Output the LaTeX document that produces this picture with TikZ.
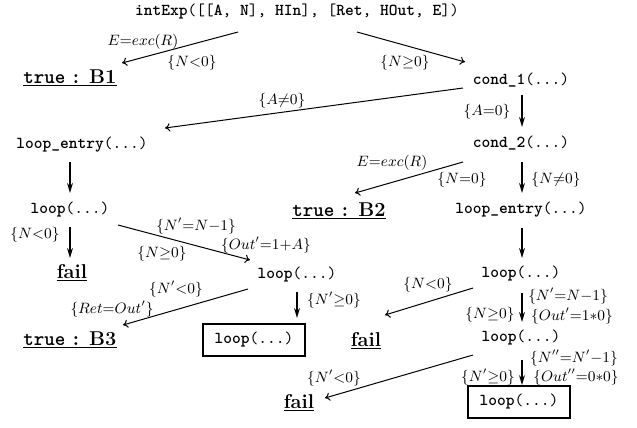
\documentclass[tikz,border=0pt]{standalone}
\usetikzlibrary{arrows.meta,calc}
\begin{document}
\begin{tikzpicture}[x=0.6pt,y=-0.6pt,
    st/.style={font=\ttfamily, inner sep=1pt},
    res/.style={font=\large\bfseries, inner sep=1pt},
    box/.style={draw, line width=1.1pt, font=\ttfamily, inner xsep=7pt, inner ysep=5pt},
    lbl/.style={font=\small, inner sep=0pt},
    dg/.style={-{To[length=3pt,width=5pt]}, semithick},
    vt/.style={-{Stealth[length=6pt,width=3.5pt]}, line width=1.1pt}]
  \useasboundingbox (0,0) rectangle (637,427);

  \node[st] (top) at (297,12) {\textbf{intExp}([[\textbf{A}, \textbf{N}], \textbf{HIn}], [\textbf{Ret}, \textbf{HOut}, \textbf{E}])};
  \node[res] (b1) at (70,78) {\underline{\texttt{true} : B1}};
  \node[st] (c1) at (521,80) {\textbf{cond\_1}(...)};
  \node[st] (le1) at (82,145) {\textbf{loop\_entry}(...)};
  \node[st] (c2) at (521,143) {\textbf{cond\_2}(...)};
  \node[res] (b2) at (339,211) {\underline{\texttt{true} : B2}};
  \node[st] (le2) at (521,210) {\textbf{loop\_entry}(...)};
  \node[st] (lp1) at (70,210) {\textbf{loop}(...)};
  \node[res] (f1) at (72,273) {\underline{fail}};
  \node[st] (lp2) at (297,275) {\textbf{loop}(...)};
  \node[st] (lp3) at (521,274) {\textbf{loop}(...)};
  \node[res] (b3) at (70,340) {\underline{\texttt{true} : B3}};
  \node[box] (bx1) at (254,340) {\textbf{loop}(...)};
  \node[res] (f2) at (366,341) {\underline{fail}};
  \node[st] (lp4) at (521,338) {\textbf{loop}(...)};
  \node[res] (f3) at (299,403) {\underline{fail}};
  \node[box] (bx2) at (519,402) {\textbf{loop}(...)};

  % branches
  \draw[dg] ($(top)+(-59,20)$) -- ($(b1)+(52,-15)$);
  \draw[dg] ($(top)+(60,20)$) -- ($(c1)+(-56,-18)$);
  \draw[dg] ($(c1)+(-58,8)$) -- ($(le1)+(83,-17)$);
  \draw[dg] ($(c2)+(-58,19)$) -- ($(b2)+(16,-18)$);
  \draw[dg] ($(lp1)+(48,15)$) -- ($(lp2)+(-47,-15)$);
  \draw[dg] ($(lp2)+(-49,14)$) -- ($(b3)+(53,-15)$);
  \draw[dg] ($(lp3)+(-48,14)$) -- ($(f2)+(19,-26)$);
  \draw[dg] ($(lp4)+(-48,17)$) -- ($(f3)+(26,-5)$);

  % straight steps
  \draw[vt] ($(c1)+(1,15)$) -- ($(c2)+(1,-16)$);
  \draw[vt] ($(c2)+(1,19)$) -- ($(le2)+(1,-17)$);
  \draw[vt] ($(le2)+(1,18)$) -- ($(lp3)+(1,-16)$);
  \draw[vt] ($(le1)+(-12,17)$) -- ($(lp1)+(0,-17)$);
  \draw[vt] ($(lp1)+(0,17)$) -- ($(f1)+(-2,-15)$);
  \draw[vt] ($(lp2)+(0,17)$) -- ($(bx1)+(43,-22)$);
  \draw[vt] ($(lp3)+(1,19)$) -- ($(lp4)+(1,-16)$);
  \draw[vt] ($(lp4)+(1,22)$) -- ($(bx2.north)+(3,0)$);

  \foreach \x/\y/\t [count=\i] in {
      143/42/{$E{=}exc(R)$}, 192/63/{$\{N{<}0\}$}, 405/63/{$\{N{\geq}0\}$},
      282/101/{$\{A{\neq}0\}$}, 487/112/{$\{A{=}0\}$},
      392/163/{$E{=}exc(R)$}, 462/180/{$\{N{=}0\}$}, 556/180/{$\{N{\neq}0\}$},
      35/235/{$\{N{<}0\}$}, 196/226/{$\{N'{=}N{-}1\}$}, 266/245/{$\{Out'{=}1{+}A\}$},
      162/254/{$\{N{\geq}0\}$}, 176/289/{$\{N'{<}0\}$}, 112/309/{$\{Ret{=}Out'\}$},
      334/300/{$\{N'{\geq}0\}$}, 428/285/{$\{N{<}0\}$}, 490/315/{$\{N{\geq}0\}$},
      568/296/{$\{N'{=}N{-}1\}$}, 572/316/{$\{Out'{=}1{\ast}0\}$},
      334/378/{$\{N'{<}0\}$}, 488/377/{$\{N'{\geq}0\}$},
      574/358/{$\{N''{=}N'{-}1\}$}, 576/377/{$\{Out''{=}0{\ast}0\}$}} {
    \node[lbl] (lab\i) at (\x,\y) {\t};
  }
\end{tikzpicture}
\end{document}
